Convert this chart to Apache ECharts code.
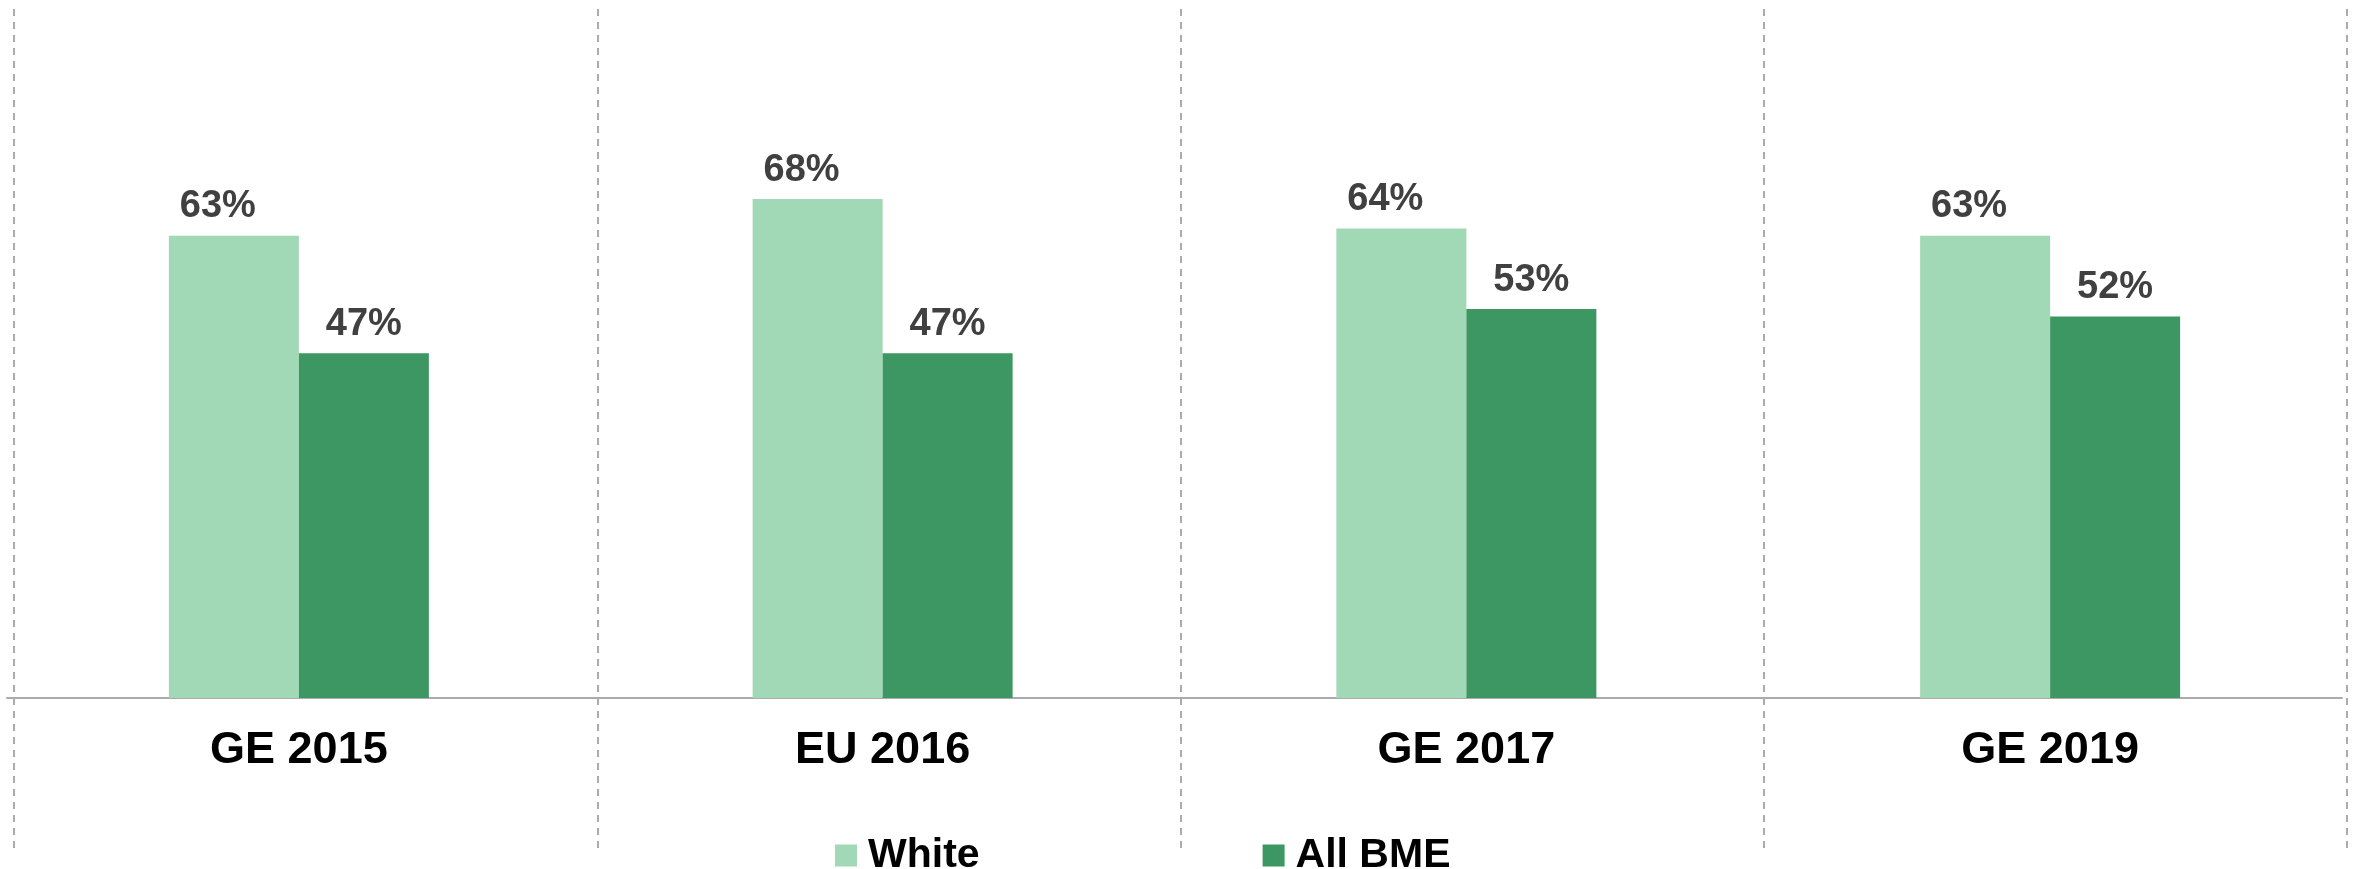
<!DOCTYPE html>
<html>
<head>
<meta charset="utf-8">
<script src="https://cdn.jsdelivr.net/npm/echarts@6/dist/echarts.min.js"></script>
<style>
html,body{margin:0;padding:0;background:#fff;}
#chart{width:2364px;height:869px;}
</style>
</head>
<body>
<div id="chart"></div>
<script>
const categories = ['GE 2015', 'EU 2016', 'GE 2017', 'GE 2019'];
const whiteValues = [63, 68, 64, 63];
const bmeValues = [47, 47, 53, 52];
const seriesNames = ['White', 'All BME'];

const FONT = '"Liberation Sans", Arial, sans-serif';
const chart = echarts.init(document.getElementById('chart'));
chart.setOption({
  backgroundColor: '#ffffff',
  animation: false,
  legend: {
    data: seriesNames,
    left: 830,
    top: 830,
    itemWidth: 22,
    itemHeight: 22,
    itemGap: 283,
    icon: 'rect',
    textStyle: { fontFamily: FONT, fontWeight: 'bold', fontSize: 41, color: '#000', padding: [0, 0, 0, 6] }
  },
  grid: [
    { left: 7, right: 22, top: 111, bottom: 171, containLabel: false },
    { left: 14, right: 17, top: 9, bottom: 19, containLabel: false }
  ],
  xAxis: [
    {
      type: 'category', gridIndex: 0, data: categories,
      axisLine: { show: true, lineStyle: { color: '#ababab', width: 2 } },
      axisTick: { show: false },
      splitLine: { show: false },
      axisLabel: { fontFamily: FONT, fontWeight: 'bold', fontSize: 45, color: '#000', margin: 30 }
    },
    {
      type: 'category', gridIndex: 1, data: categories,
      axisLine: { show: false }, axisTick: { show: false }, axisLabel: { show: false },
      splitLine: { show: true, lineStyle: { color: '#ababab', width: 2, type: [7, 6] } }
    }
  ],
  yAxis: [
    { type: 'value', gridIndex: 0, min: 0, max: 80, show: false, splitLine: { show: false } },
    { type: 'value', gridIndex: 1, min: 0, max: 1, show: false, splitLine: { show: false } }
  ],
  series: [
    {
      name: seriesNames[0], type: 'bar', xAxisIndex: 0, yAxisIndex: 0,
      data: whiteValues, barWidth: 130, barGap: '0%',
      itemStyle: { color: '#a1d8b6' },
      label: { show: true, position: 'top', distance: 10, offset: [-16, 0], formatter: '{c}%',
        fontFamily: FONT, fontWeight: 'bold', fontSize: 38, color: '#404040' }
    },
    {
      name: seriesNames[1], type: 'bar', xAxisIndex: 0, yAxisIndex: 0,
      data: bmeValues, barWidth: 130, barGap: '0%',
      itemStyle: { color: '#3d9763' },
      label: { show: true, position: 'top', distance: 10, formatter: '{c}%',
        fontFamily: FONT, fontWeight: 'bold', fontSize: 38, color: '#404040' }
    }
  ]
});
</script>
</body>
</html>
